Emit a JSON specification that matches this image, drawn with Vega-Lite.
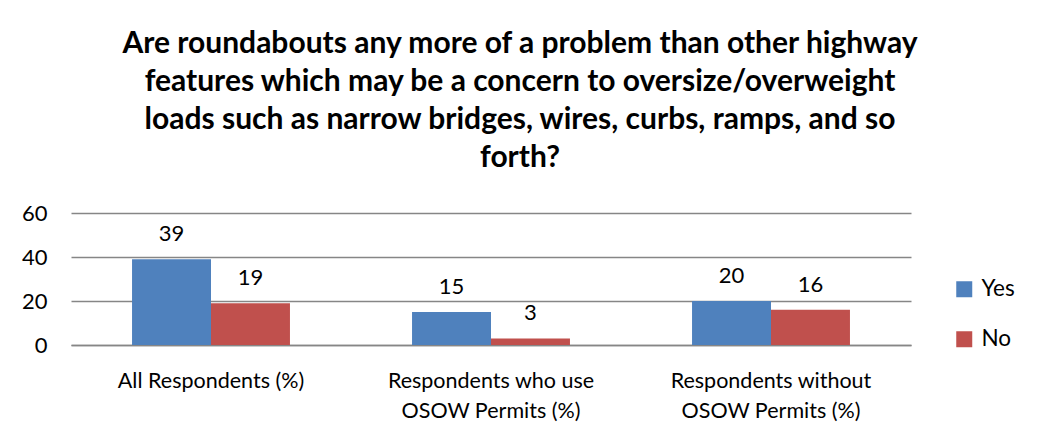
{
  "$schema": "https://vega.github.io/schema/vega-lite/v6.json",
  "autosize": "none",
  "width": 840,
  "height": 132,
  "padding": {"left": 71, "top": 213, "right": 128, "bottom": 100},
  "background": "white",
  "title": {
    "text": ["Are roundabouts any more of a problem than other highway", "features which may be a concern  to oversize/overweight", "loads such as narrow bridges, wires, curbs, ramps, and so", "forth?"],
    "font": "Lato",
    "fontSize": 30,
    "fontWeight": "bold",
    "color": "black",
    "lineHeight": 38,
    "anchor": "middle",
    "frame": "group",
    "dx": 29,
    "offset": 29
  },
  "data": {
    "values": [
      {"group": "All Respondents (%)", "answer": "Yes", "value": 39},
      {"group": "All Respondents (%)", "answer": "No", "value": 19},
      {"group": "Respondents who use OSOW Permits (%)", "answer": "Yes", "value": 15},
      {"group": "Respondents who use OSOW Permits (%)", "answer": "No", "value": 3},
      {"group": "Respondents without OSOW Permits (%)", "answer": "Yes", "value": 20},
      {"group": "Respondents without OSOW Permits (%)", "answer": "No", "value": 16}
    ]
  },
  "encoding": {
    "x": {
      "field": "group", "type": "nominal", "sort": null, "title": null,
      "scale": {"paddingInner": 0.436, "paddingOuter": 0.218},
      "axis": {
        "labelAngle": 0, "ticks": false, "domainColor": "#868686", "domainWidth": 1.5,
        "labelFont": "Lato", "labelFontSize": 21.5, "labelColor": "black", "labelLimit": 0,
        "labelPadding": 25, "labelLineHeight": 30, "labelBaseline": "top",
        "labelExpr": "datum.value == 'Respondents who use OSOW Permits (%)' ? ['Respondents who use', 'OSOW Permits (%)'] : datum.value == 'Respondents without OSOW Permits (%)' ? ['Respondents without', 'OSOW Permits (%)'] : datum.value"
      }
    },
    "xOffset": {"field": "answer", "type": "nominal", "sort": ["Yes", "No"], "scale": {"paddingInner": 0, "paddingOuter": 0}},
    "y": {
      "field": "value", "type": "quantitative", "title": null,
      "scale": {"domain": [0, 60]},
      "axis": {
        "values": [0, 20, 40, 60], "domain": false, "ticks": false,
        "gridColor": "#868686", "gridWidth": 1.5,
        "labelFont": "Lato", "labelFontSize": 22, "labelColor": "black", "labelPadding": 24
      }
    }
  },
  "layer": [
    {
      "mark": {"type": "bar"},
      "encoding": {
        "color": {
          "field": "answer", "type": "nominal", "sort": ["Yes", "No"],
          "scale": {"domain": ["Yes", "No"], "range": ["#4F81BD", "#C0504D"]},
          "legend": {
            "title": null, "orient": "none", "legendX": 882, "legendY": 65,
            "symbolType": "square", "symbolSize": 256, "symbolStrokeWidth": 0,
            "labelFont": "Lato", "labelFontSize": 22.5, "labelColor": "black",
            "rowPadding": 27, "labelOffset": 6
          }
        }
      }
    },
    {
      "mark": {"type": "text", "font": "Lato", "fontSize": 22, "color": "black", "baseline": "alphabetic", "dy": -18},
      "encoding": {"text": {"field": "value", "type": "quantitative"}}
    }
  ],
  "config": {"view": {"stroke": null}}
}
